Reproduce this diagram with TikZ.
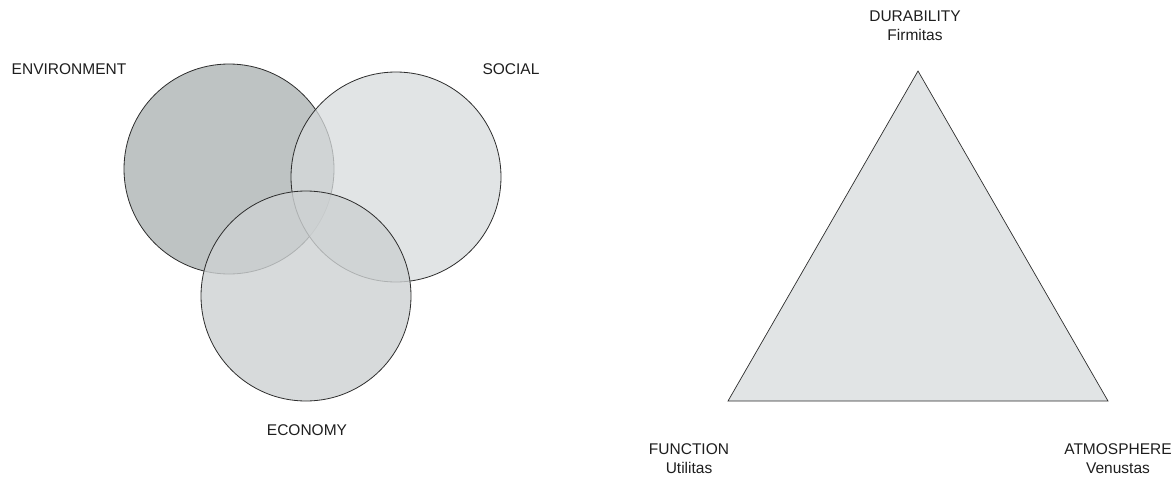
\documentclass[tikz,border=0pt]{standalone}
\usepackage{fontspec}
\setmainfont{Liberation Sans}

\definecolor{envfill}{RGB}{190,195,195}
\definecolor{socfill}{RGB}{215,219,220}
\definecolor{ecofill}{RGB}{205,209,210}
\definecolor{trifill}{RGB}{225,228,229}
\definecolor{linegray}{RGB}{45,45,45}
\definecolor{textgray}{RGB}{30,30,30}

\begin{document}
\begin{tikzpicture}[x=1pt,y=-1pt]
\tikzstyle{every node}+=[inner sep=0pt]
\tikzstyle{ring}=[circle,draw=linegray,line width=0.8pt,minimum size=210pt]
\tikzstyle{lbl}=[font=\fontsize{15.5}{19}\selectfont,text=textgray,align=center]
\useasboundingbox (0,0) rectangle (1175,477);
% three pillars
\node [ring,fill=envfill] (env) at (229,169) {};
\node [ring,fill=socfill,fill opacity=0.75] (soc) at (396,177) {};
\node [ring,fill=ecofill,fill opacity=0.8] (eco) at (306,296) {};
\node [lbl] (envlbl) at (69,69) {ENVIRONMENT};
\node [lbl] (soclbl) at (511,69) {SOCIAL};
\node [lbl] (ecolbl) at (307,430) {ECONOMY};
% vitruvian triad
\coordinate (dur) at (918,71);
\coordinate (fun) at (728,401);
\coordinate (atm) at (1108,401);
\draw [linegray,fill=trifill,line width=0.7pt] (dur) -- (fun) -- (atm) -- cycle;
\node [lbl] (durlbl) at (915,26) {DURABILITY\\Firmitas};
\node [lbl] (funlbl) at (689,459) {FUNCTION\\Utilitas};
\node [lbl] (atmlbl) at (1118,459) {ATMOSPHERE\\Venustas};
\end{tikzpicture}
\end{document}
